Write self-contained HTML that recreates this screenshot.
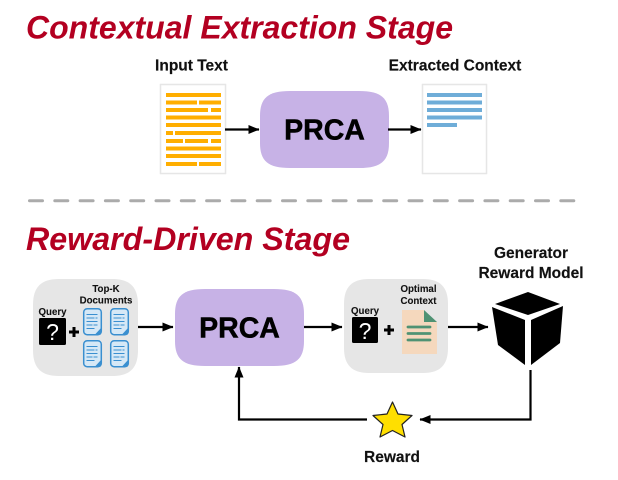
<!DOCTYPE html>
<html><head><meta charset="utf-8"><style>
html,body{margin:0;padding:0;background:#fff}
svg{display:block;filter:blur(0.3px)}
text{font-family:"Liberation Sans",sans-serif;font-weight:bold;fill:#111}
.t{font-size:32px;font-style:italic;fill:#b30021}
.l{font-size:15.5px;stroke:#111;stroke-width:.15}
.s{font-size:9.7px;stroke:#111;stroke-width:.1}
.p{font-size:28.5px;fill:#000;stroke:#000;stroke-width:.5}
</style></head><body>
<svg width="618" height="480" viewBox="0 0 618 480" xmlns="http://www.w3.org/2000/svg">
<defs>
<marker id="a" markerWidth="12" markerHeight="10" refX="10.500" refY="4.500" orient="auto" markerUnits="userSpaceOnUse"><path d="M0 0L11 4.500L0 9Z" fill="#000"/></marker>
<g id="doc">
<rect x="0.7" y="0.7" width="17.6" height="26" rx="3.500" fill="#d6e8f6" stroke="#3a8fd0" stroke-width="1.500"/>
<path d="M3.500 6.500h11M3.500 10h8M12.500 10h2M3.500 13.500h11M3.500 17h6M10.500 17h4M3.500 20.500h8" stroke="#3a8fd0" stroke-width="1"/>
<path d="M12 26.500L18 20V26.500Z" fill="#3a8fd0"/>
</g>
</defs>
<rect width="618" height="480" fill="#fff"/>
<text class="t" x="26" y="38.500" textLength="427" lengthAdjust="spacingAndGlyphs">Contextual Extraction Stage</text>
<text class="l" x="191.500" y="70.500" text-anchor="middle">Input Text</text>
<text class="l" x="455" y="70.500" text-anchor="middle">Extracted Context</text>

<rect x="160.500" y="84.500" width="65" height="89" fill="#fff" stroke="#e6e6e6" stroke-width="1.500"/>
<g fill="#ffae00">
<rect x="166" y="93" width="55" height="4"/>
<rect x="166" y="100.500" width="31" height="4"/><rect x="199" y="100.500" width="22" height="4"/>
<rect x="166" y="108" width="42" height="4"/><rect x="211" y="108" width="10" height="4"/>
<rect x="166" y="115.500" width="55" height="4"/>
<rect x="166" y="123" width="55" height="4"/>
<rect x="166" y="131" width="7" height="4"/><rect x="175" y="131" width="46" height="4"/>
<rect x="166" y="139" width="17" height="4"/><rect x="185" y="139" width="23" height="4"/><rect x="211" y="139" width="10" height="4"/>
<rect x="166" y="146.500" width="55" height="4"/>
<rect x="166" y="154" width="55" height="4"/>
<rect x="166" y="162" width="31" height="4"/><rect x="199" y="162" width="22" height="4"/>
</g>
<path d="M260 116C260 98 268 91 290 91H359C381 91 389 98 389 116V143C389 161 381 168 359 168H290C268 168 260 161 260 143Z" fill="#c7b2e6"/>
<text class="p" x="324.500" y="139.500" text-anchor="middle">PRCA</text>
<path d="M225 129.500H259" stroke="#000" stroke-width="2.200" marker-end="url(#a)"/>
<path d="M388 129.500H421" stroke="#000" stroke-width="2.200" marker-end="url(#a)"/>
<rect x="422.500" y="84.500" width="64" height="89" fill="#fff" stroke="#e6e6e6" stroke-width="1.500"/>
<g fill="#6fadd8">
<rect x="427" y="93" width="55" height="4"/><rect x="427" y="100.500" width="55" height="4"/><rect x="427" y="108" width="55" height="4"/><rect x="427" y="115.500" width="55" height="4"/><rect x="427" y="123" width="30" height="4"/>
</g>

<path d="M29.500 200.700H575" stroke="#ababab" stroke-width="3" stroke-linecap="round" stroke-dasharray="13 12.300"/>

<text class="t" x="26" y="250" textLength="324" lengthAdjust="spacingAndGlyphs">Reward-Driven Stage</text>
<text class="l" x="531" y="258" text-anchor="middle">Generator</text>
<text class="l" x="531" y="278" text-anchor="middle">Reward Model</text>

<path d="M33 305C33 287 41 279 59 279H112C130 279 138 287 138 305V350C138 368 130 376 112 376H59C41 376 33 368 33 350Z" fill="#e6e6e6"/>
<text class="s" x="52.500" y="315" text-anchor="middle">Query</text>
<rect x="39" y="318" width="27" height="27" rx="1.500" fill="#000"/>
<text x="52.500" y="340" text-anchor="middle" style="font-size:23px;font-weight:normal;fill:#fff">?</text>
<path d="M69 332H79M74 327V337" stroke="#000" stroke-width="3"/>
<text class="s" x="106" y="292" text-anchor="middle">Top-K</text>
<text class="s" x="106" y="303.500" text-anchor="middle">Documents</text>
<use href="#doc" x="83" y="308"/><use href="#doc" x="110" y="308"/>
<use href="#doc" x="83" y="340"/><use href="#doc" x="110" y="340"/>
<path d="M138 327H173" stroke="#000" stroke-width="2.200" marker-end="url(#a)"/>

<path d="M175 314C175 296 183 289 205 289H274C296 289 304 296 304 314V341C304 359 296 366 274 366H205C183 366 175 359 175 341Z" fill="#c7b2e6"/>
<text class="p" x="239.500" y="337.500" text-anchor="middle">PRCA</text>
<path d="M304 327H342" stroke="#000" stroke-width="2.200" marker-end="url(#a)"/>

<path d="M344 304C344 287 352 279 369 279H423C440 279 448 287 448 304V348C448 365 440 373 423 373H369C352 373 344 365 344 348Z" fill="#e6e6e6"/>
<text class="s" x="365" y="314" text-anchor="middle">Query</text>
<rect x="352" y="317" width="26" height="26" rx="1.500" fill="#000"/>
<text x="365" y="339" text-anchor="middle" style="font-size:23px;font-weight:normal;fill:#fff">?</text>
<path d="M384 330H394M389 325V335" stroke="#000" stroke-width="3"/>
<text class="s" x="418.500" y="292" text-anchor="middle">Optimal</text>
<text class="s" x="418.500" y="304" text-anchor="middle">Context</text>
<path d="M402 310H424V322H437V354H402Z" fill="#f5d8bd"/>
<path d="M424 310L437 322H424Z" fill="#4f9273"/>
<path d="M408 327H430M408 333.500H430M408 340H430" stroke="#4f9273" stroke-width="2.800" stroke-linecap="round"/>
<path d="M448 327H488" stroke="#000" stroke-width="2.200" marker-end="url(#a)"/>

<path d="M528 292L560 304L528 315L495 304Z" fill="#000"/>
<path d="M492 307L525 320V365L498 345Z" fill="#000"/>
<path d="M531 320L563 306L560 343L531 365Z" fill="#000"/>

<path d="M530.500 370V419.500H420" fill="none" stroke="#000" stroke-width="2.200" marker-end="url(#a)"/>
<path d="M367 419.500H239V367" fill="none" stroke="#000" stroke-width="2.200" marker-end="url(#a)"/>
<path d="M392.500 402L398 414L412 415.500L402 424.500L405 437L392.500 430.500L380 437L383 424.500L373 415.500L387 414Z" fill="#ffdf00" stroke="#222" stroke-width="1.200" stroke-linejoin="round"/>
<text class="l" x="392" y="462" text-anchor="middle">Reward</text>
</svg>
</body></html>
